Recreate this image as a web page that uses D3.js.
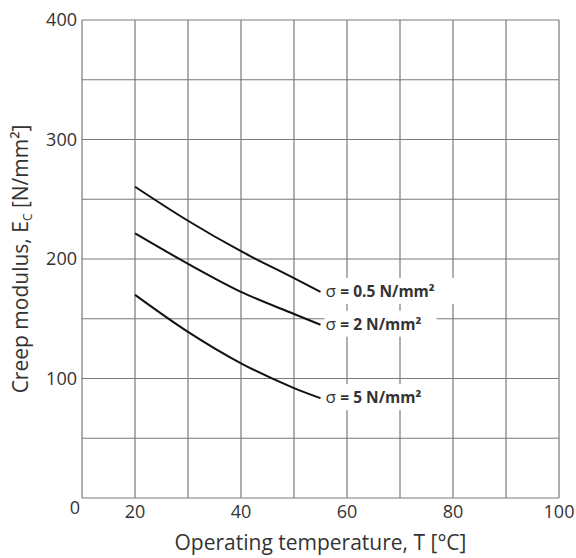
<!DOCTYPE html>
<html>
<head>
<meta charset="utf-8">
<script src="https://cdn.jsdelivr.net/npm/d3@7"></script>
<style>
  body { margin: 0; background: #fff; }
  text { font-family: "Open Sans", "Noto Sans", sans-serif; fill: #333; }
</style>
</head>
<body>
<script>
let svgWidth = 576
let svgHeight = 558

let margin = { top: 20, right: 17, bottom: 60, left: 82 }
let w = svgWidth - margin.left - margin.right
let h = svgHeight - margin.top - margin.bottom

// data
let temps = [20, 30, 40, 50, 55]
let sigma05 = [260.5, 232, 206.5, 184, 172.5]
let sigma2 = [221.5, 196, 172.5, 154, 145]
let sigma5 = [170, 139, 112.7, 92, 83.5]
let seriesLabels = ["0.5 N/mm²", "2 N/mm²", "5 N/mm²"]
let xTicks = [20, 40, 60, 80, 100]
let yTicks = [100, 200, 300, 400]

let series = [sigma05, sigma2, sigma5]

let xScale = d3.scaleLinear().domain([10, 100]).range([0, w])
let yScale = d3.scaleLinear().domain([0, 400]).range([h, 0])

let svg = d3.select("body")
    .append("svg")
    .attr("width", svgWidth)
    .attr("height", svgHeight)

let g = svg.append("g")
    .attr("transform", "translate(" + margin.left + "," + margin.top + ")")

// grid
g.append("g")
    .selectAll("line")
    .data(d3.range(10, 101, 10))
    .enter().append("line")
    .attr("x1", d => xScale(d)).attr("x2", d => xScale(d))
    .attr("y1", 0).attr("y2", h)
    .attr("stroke", "#7a7a7a").attr("stroke-width", 1.2)

g.append("g")
    .selectAll("line")
    .data(d3.range(0, 401, 50))
    .enter().append("line")
    .attr("x1", 0).attr("x2", w)
    .attr("y1", d => yScale(d)).attr("y2", d => yScale(d))
    .attr("stroke", "#7a7a7a").attr("stroke-width", 1.2)

// tick labels
g.append("g")
    .selectAll("text")
    .data(xTicks)
    .enter().append("text")
    .attr("x", d => xScale(d))
    .attr("y", h + 20)
    .attr("text-anchor", "middle")
    .attr("font-size", 18)
    .text(d => d)

g.append("g")
    .selectAll("text")
    .data(yTicks)
    .enter().append("text")
    .attr("x", -5)
    .attr("y", d => yScale(d))
    .attr("dy", "0.35em")
    .attr("text-anchor", "end")
    .attr("font-size", 18)
    .text(d => d)

// origin label
g.append("text")
    .attr("x", -7)
    .attr("y", h + 16)
    .attr("text-anchor", "middle")
    .attr("font-size", 18)
    .text("0")

// curves
let line = d3.line()
    .x((d, i) => xScale(temps[i]))
    .y(d => yScale(d))
    .curve(d3.curveMonotoneX)

// label boxes hide the grid behind the text
let labels = g.append("g")
    .selectAll("g")
    .data(series)
    .enter().append("g")
    .attr("transform", d => "translate(" + (xScale(temps[temps.length - 1]) + 4) + "," + (yScale(d[d.length - 1]) - 1) + ")")

labels.append("rect")
    .attr("x", 0).attr("y", -13)
    .attr("width", function (d, i) { return i === 0 ? 130 : 112 })
    .attr("height", 26)
    .attr("fill", "#fff")

let lt = labels.append("text")
    .attr("x", 1)
    .attr("dy", "0.35em")
    .attr("font-size", 17)

lt.append("tspan").text("σ ")
lt.append("tspan")
    .attr("font-weight", "bold")
    .attr("font-size", 15.5)
    .text((d, i) => "= " + seriesLabels[i])

g.append("g")
    .selectAll("path")
    .data(series)
    .enter().append("path")
    .attr("d", line)
    .attr("fill", "none")
    .attr("stroke", "#111")
    .attr("stroke-width", 2)

// axis titles
svg.append("text")
    .attr("x", margin.left + w / 2)
    .attr("y", 550)
    .attr("text-anchor", "middle")
    .attr("font-size", 21)
    .text("Operating temperature, T [°C]")

let yt = svg.append("text")
    .attr("transform", "translate(28," + 259 + ") rotate(-90)")
    .attr("text-anchor", "middle")
    .attr("font-size", 21)
yt.append("tspan").text("Creep modulus, E")
yt.append("tspan").attr("font-size", 12).attr("dy", 4).text("C")
yt.append("tspan").attr("dy", -4).text(" [N/mm²]")
</script>
</body>
</html>
